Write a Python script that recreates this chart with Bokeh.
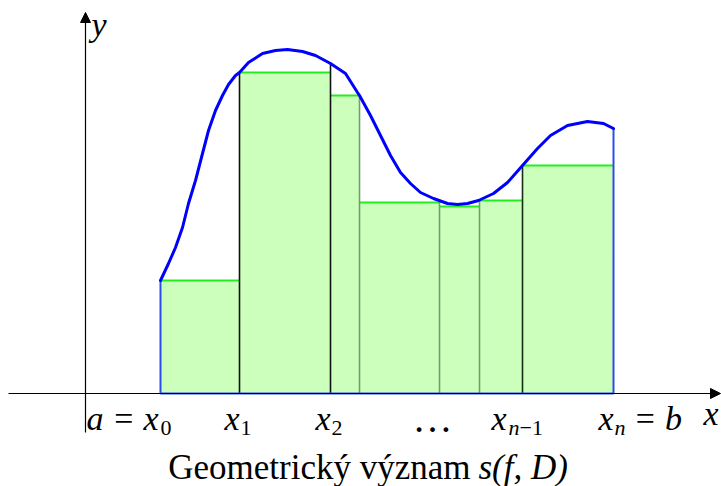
import numpy as np
from bokeh.plotting import figure
from bokeh.models import Range1d, Arrow, NormalHead, Label
from bokeh.embed import file_html
from bokeh.resources import INLINE

# partition points x_0 ... x_n
nodes = [0.75, 1.54, 2.45, 2.74, 3.54, 3.94, 4.37, 5.28]
# lower rectangle heights (infimum of f on each subinterval)
heights = [1.13, 3.21, 2.98, 1.91, 1.87, 1.93, 2.28]
# the function f
curve_x = [0.75, 0.83, 0.90, 0.97, 1.03, 1.10, 1.17, 1.23, 1.30, 1.37, 1.43, 1.50,
           1.54, 1.63, 1.77, 1.90, 2.02, 2.17, 2.30, 2.45, 2.60, 2.72, 2.74, 2.85,
           2.95, 3.05, 3.15, 3.25, 3.35, 3.48, 3.62, 3.72, 3.82, 3.93, 4.08, 4.22,
           4.37, 4.52, 4.65, 4.82, 5.02, 5.18, 5.28]
curve_y = [1.13, 1.30, 1.46, 1.66, 1.90, 2.13, 2.40, 2.63, 2.83, 2.98, 3.09, 3.18,
           3.21, 3.31, 3.40, 3.43, 3.44, 3.42, 3.38, 3.30, 3.20, 3.01, 2.98, 2.78,
           2.58, 2.38, 2.21, 2.10, 2.01, 1.95, 1.90, 1.89, 1.90, 1.93, 2.00, 2.11,
           2.28, 2.45, 2.58, 2.68, 2.72, 2.70, 2.65]
# tick labels: main part, subscript
tick_main = ["a = x", "x", "x", "x", "x"]
tick_sub = ["0", "1", "2", "n", "n"]
dots_label = "…"

W, H = 721, 486
p = figure(width=W, height=H, output_backend="svg", toolbar_location=None,
           x_range=Range1d(-0.85, 6.36), y_range=Range1d(-0.93, 3.93),
           min_border=0)
p.axis.visible = False
p.grid.visible = False
p.outline_line_color = None
p.background_fill_color = "white"
p.border_fill_color = "white"

left = nodes[:-1]
right = nodes[1:]
p.quad(left=left, right=right, bottom=[0] * len(heights), top=heights,
       fill_color="#ccffbb", line_color=None)
# top edges
p.segment(x0=left, x1=right, y0=heights, y1=heights, line_color="#22ee22", line_width=2)

# inner dividers up to f(x_i)
f_nodes = np.interp(nodes, curve_x, curve_y)
div_colors = ["#111111", "#111111", "#6f9f6f", "#6f9f6f", "#6f9f6f", "#143014"]
p.segment(x0=nodes[1:-1], x1=nodes[1:-1], y0=[0] * 6, y1=list(f_nodes[1:-1]),
          line_color=div_colors, line_width=1.6)

# axes
p.add_layout(Arrow(end=NormalHead(size=10, fill_color="black", line_color="black"),
                   x_start=-0.77, y_start=0, x_end=6.35, y_end=0,
                   line_color="black", line_width=1.2))
p.add_layout(Arrow(end=NormalHead(size=10, fill_color="black", line_color="black"),
                   x_start=0, y_start=-0.39, x_end=0, y_end=3.81,
                   line_color="black", line_width=1.2))

# blue boundary of the region
p.line(x=[nodes[0], nodes[0], nodes[-1], nodes[-1]],
       y=[f_nodes[0], 0, 0, f_nodes[-1]], line_color="#2a4ee8", line_width=2)
# the curve
p.line(x=curve_x, y=curve_y, line_color="#0000ff", line_width=3, line_join="round",
       line_cap="round")

FONT = "Liberation Serif"
MAIN = "34px"
SUB = "22px"
base_main = H - 430 + 12
base_sub = H - 436 + 9

anchors = [nodes[0], nodes[1], nodes[2], nodes[6], nodes[7]]
main_off = [-2, 0, 0, -16, 0]
sub_off = [0, 1, 1, -14, 1]
for i in range(5):
    p.add_layout(Label(x=anchors[i], y=base_main, y_units="screen", text=tick_main[i],
                       x_offset=main_off[i], text_align="right", text_baseline="alphabetic",
                       text_font=FONT, text_font_style="italic", text_font_size=MAIN,
                       text_color="black"))
    p.add_layout(Label(x=anchors[i], y=base_sub, y_units="screen", text=tick_sub[i],
                       x_offset=sub_off[i], text_align="left", text_baseline="alphabetic",
                       text_font=FONT,
                       text_font_style="italic" if tick_sub[i] == "n" else "normal",
                       text_font_size=SUB, text_color="black"))
# "-1" after n in x_{n-1}
p.add_layout(Label(x=nodes[6], y=base_sub, y_units="screen", text="−1", x_offset=-3,
                   text_align="left", text_baseline="alphabetic", text_font=FONT,
                   text_font_size=SUB, text_color="black"))
# "= b" after x_n
p.add_layout(Label(x=nodes[7], y=base_main, y_units="screen", text="= b", x_offset=20,
                   text_align="left", text_baseline="alphabetic", text_font=FONT,
                   text_font_style="italic", text_font_size=MAIN, text_color="black"))
# dots
p.add_layout(Label(x=(nodes[2] + nodes[6]) / 2, y=base_main, y_units="screen",
                   text=dots_label, x_offset=6, text_align="center",
                   text_baseline="alphabetic", text_font=FONT, text_font_size="40px",
                   text_color="black"))
# axis names
p.add_layout(Label(x=703, y=H - 425 + 12, x_units="screen", y_units="screen", text="x",
                   text_align="left", text_baseline="alphabetic", text_font=FONT,
                   text_font_style="italic", text_font_size=MAIN, text_color="black"))
p.add_layout(Label(x=91, y=H - 36 + 12, x_units="screen", y_units="screen", text="y",
                   text_align="left", text_baseline="alphabetic", text_font=FONT,
                   text_font_style="italic", text_font_size=MAIN, text_color="black"))
# caption
p.add_layout(Label(x=470, y=H - 479 + 12, x_units="screen", y_units="screen",
                   text="Geometrický význam", text_align="right", text_baseline="alphabetic",
                   text_font=FONT, text_font_size="35px", text_color="black"))
p.add_layout(Label(x=478, y=H - 479 + 12, x_units="screen", y_units="screen",
                   text="s(f, D)", text_align="left", text_baseline="alphabetic",
                   text_font=FONT, text_font_style="italic", text_font_size="35px",
                   text_color="black"))

open("out.html", "w").write(file_html(p, INLINE))
